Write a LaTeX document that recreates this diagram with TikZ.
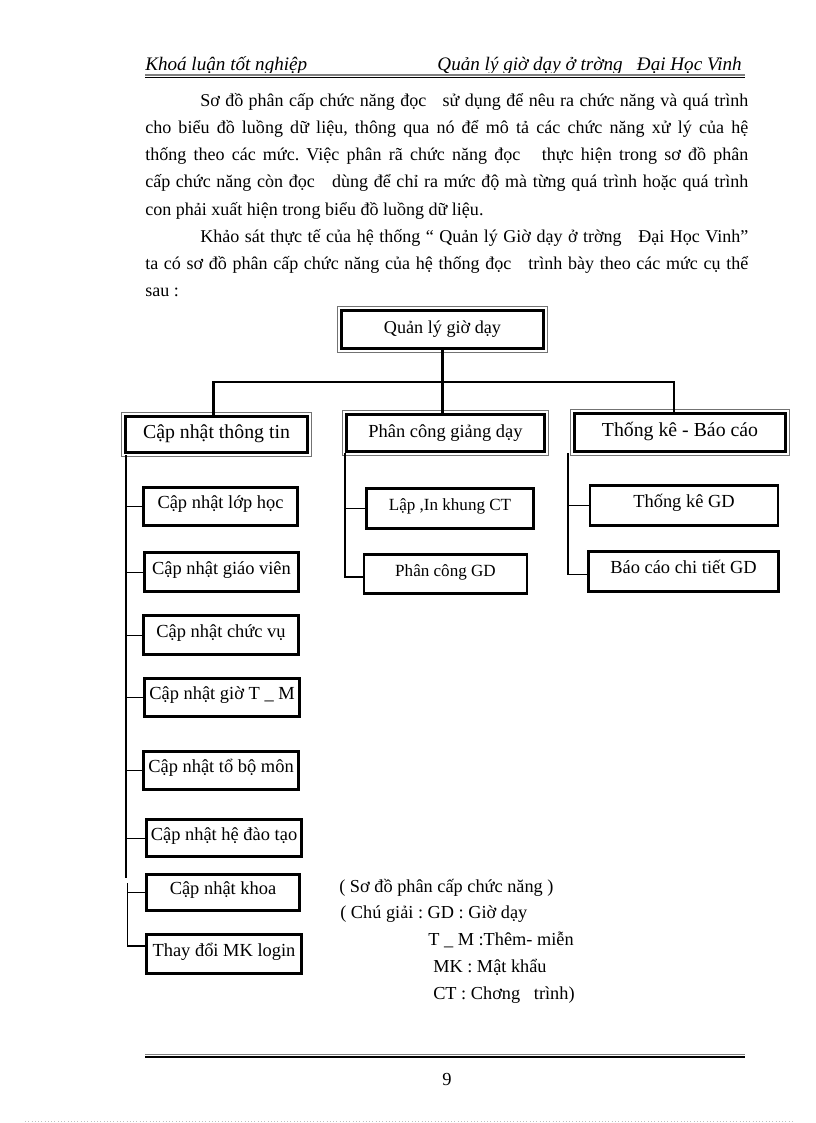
\documentclass[tikz,border=0pt]{standalone}
\usepackage{fontspec}
\setmainfont{Liberation Serif}
\frenchspacing

\newlength\px
\setlength\px{0.25735mm}
\newcommand\setfs[1]{\fontsize{#1}{#1}\selectfont}

\begin{document}
\begin{tikzpicture}[x=0.25735mm, y=-0.25735mm,
    txt/.style={inner sep=0pt, anchor=base west, font=\setfs{13.2pt}},
    dbox/.style={draw, line width=2.2pt, inner sep=0pt, text height=10.5pt, text depth=4.5pt},
    sbox/.style={draw, line width=1.8pt, inner sep=0pt, text height=9pt, text depth=6pt, font=\setfs{13.5pt}},
    frame/.style={draw=black!55, line width=0.6pt},
    tree/.style={line width=1.5pt},
    spine/.style={line width=1.1pt},
    branch/.style={line width=0.6pt}]
    \useasboundingbox (0,0) rectangle (816,1123);

    % header
    \begin{scope}
        \clip (0,0) rectangle (816,73);
        \node[txt, font=\itshape\setfs{14pt}] (hl) at (145,71) {Khoá luận tốt nghiệp};
        \node[txt, anchor=base east, font=\itshape\setfs{14pt}] (hr) at (742,71) {Quản lý giờ dạy ở trờng\ \ \ Đại Học Vinh};
    \end{scope}
    \draw[black!50, line width=2.4\px] (145,75) -- (745,75);
    \draw[line width=0.9\px] (145,77.5) -- (745,77.5);

    % text
    \node[txt] (p1) at (200,106.5) {\makebox[548\px][s]{Sơ đồ phân cấp chức năng đọc\ \ \ sử dụng để nêu ra chức năng và quá trình}};
    \node[txt] (p2) at (145,133.6) {\makebox[603\px][s]{cho biểu đồ luồng dữ liệu, thông qua nó để mô tả các chức năng xử lý của hệ}};
    \node[txt] (p3) at (145,160.8) {\makebox[603\px][s]{thống theo các mức. Việc phân rã chức năng đọc\ \ \ thực hiện trong sơ đồ phân}};
    \node[txt] (p4) at (145,187.9) {\makebox[603\px][s]{cấp chức năng còn đọc\ \ \ dùng để chỉ ra mức độ mà từng quá trình hoặc quá trình}};
    \node[txt] (p5) at (145,215) {con phải xuất hiện trong biểu đồ luồng dữ liệu.};
    \node[txt] (p6) at (200,242.2) {\makebox[548\px][s]{Khảo sát thực tế của hệ thống “ Quản lý Giờ dạy ở trờng\ \ \ Đại Học Vinh”}};
    \node[txt] (p7) at (145,269.3) {\makebox[603\px][s]{ta có sơ đồ phân cấp chức năng của hệ thống đọc\ \ \ trình bày theo các mức cụ thể}};
    \node[txt] (p8) at (145,296.5) {sau :};

    % level 0 and 1
    \node[dbox, minimum width=202\px, minimum height=38\px, font=\setfs{13.3pt}] (top) at (442.5,329.5) {Quản lý giờ dạy};
    \node[dbox, minimum width=182\px, minimum height=36\px, font=\setfs{14.5pt}] (cntt) at (216.5,434.5) {Cập nhật thông tin};
    \node[dbox, minimum width=198\px, minimum height=37\px, font=\setfs{13.5pt}] (pcgd) at (445.5,433) {Phân công giảng dạy};
    \node[dbox, minimum width=211\px, minimum height=38\px, font=\setfs{14.5pt}] (tkbc) at (680,432.5) {Thống kê - Báo cáo};
    \foreach \n in {top,cntt,pcgd,tkbc}
        \draw[frame] ([shift={(-2.5,-2.5)}]\n.north west) rectangle ([shift={(2.5,2.5)}]\n.south east);

    % left column
    \node[sbox, minimum width=154\px, minimum height=38\px] (b1) at (220.5,506.5) {Cập nhật lớp học};
    \node[sbox, minimum width=154\px, minimum height=39\px] (b2) at (221.5,572) {Cập nhật giáo viên};
    \node[sbox, minimum width=155\px, minimum height=39\px] (b3) at (221,635) {Cập nhật chức vụ};
    \node[sbox, minimum width=155\px, minimum height=38\px] (b4) at (222,697.5) {Cập nhật giờ T \_ M};
    \node[sbox, minimum width=155\px, minimum height=38\px] (b5) at (221,770.5) {Cập nhật tổ bộ môn};
    \node[sbox, minimum width=155\px, minimum height=37\px] (b6) at (224,838) {Cập nhật hệ đào tạo};
    \node[sbox, minimum width=153\px, minimum height=36\px] (b7) at (223,892.5) {Cập nhật khoa};
    \node[sbox, minimum width=155\px, minimum height=39\px] (b8) at (224,954) {Thay đổi MK login};

    % middle and right columns
    \node[sbox, minimum width=167\px, minimum height=40\px, font=\setfs{12.5pt}] (m1) at (450,508.5) {Lập ,In khung CT};
    \node[sbox, minimum width=163\px, minimum height=39\px, font=\setfs{12.5pt}] (m2) at (445.5,574) {Phân công GD};
    \node[sbox, minimum width=188\px, minimum height=40\px] (r1) at (684,505.5) {Thống kê GD};
    \node[sbox, minimum width=190\px, minimum height=40\px] (r2) at (683.5,571.5) {Báo cáo chi tiết GD};

    % tree
    \coordinate (bar) at (442.5,382);
    \draw[line width=2.4pt] (top.south) -- (top.south |- pcgd.north);
    \draw[tree] ([xshift=-3\px]cntt.north) |- (bar) -| ([xshift=-6\px]tkbc.north);

    \coordinate (lsp) at (126,455);
    \coordinate (lgap) at (126,878);
    \coordinate (lsp2) at (127.5,883);
    \draw[spine] (lsp) -- (lgap);
    \draw[spine] (lsp2) |- ([yshift=8\px]b8.west);
    \foreach \b in {b1,b2,b3,b4,b5,b6}
        \draw[branch] (lsp |- \b.west) -- (\b.west);
    \draw[branch] (lsp2 |- b7.west) -- (b7.west);

    \coordinate (msp) at (345,453);
    \draw[spine] (msp) |- ([yshift=-3\px]m2.west);
    \draw[branch] (msp |- m1.west) -- (m1.west);
    \coordinate (rsp) at (568,453);
    \draw[spine] (rsp) |- ([yshift=-3\px]r2.west);
    \draw[branch] (rsp |- r1.west) -- (r1.west);

    % legend
    \node[txt, font=\setfs{13.4pt}] (lg1) at (339,892) {( Sơ đồ phân cấp chức năng )};
    \node[txt, font=\setfs{13.4pt}] (lg2) at (340,918) {( Chú giải : GD : Giờ dạy};
    \node[txt, font=\setfs{13.4pt}] (lg3) at (428,945) {T \_ M :Thêm- miễn};
    \node[txt, font=\setfs{13.4pt}] (lg4) at (433,972) {MK : Mật khẩu};
    \node[txt, font=\setfs{13.4pt}] (lg5) at (433,999) {CT : Chơng\ \ \ trình)};

    % footer
    \draw[black!50, line width=1\px] (145,1054) -- (745,1054);
    \draw[line width=1.5\px] (145,1057) -- (745,1057);
    \node[txt, anchor=base, font=\setfs{13.5pt}] (pg) at (447,1085) {9};
    \draw[black!25, dotted] (25,1121) -- (795,1121);
\end{tikzpicture}
\end{document}
